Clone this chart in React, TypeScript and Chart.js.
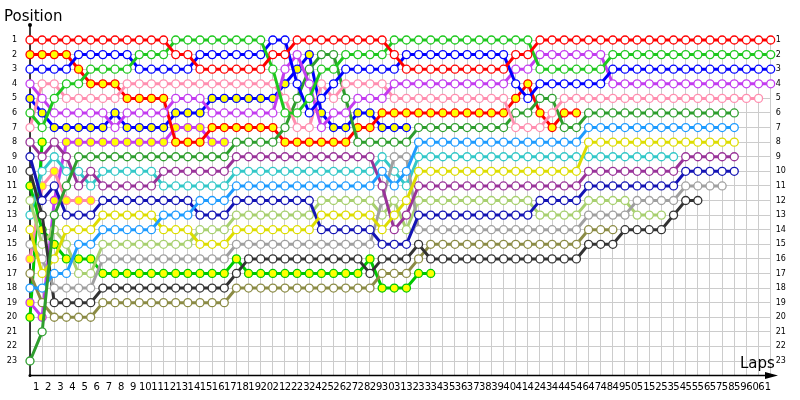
import React, { useEffect, useRef } from 'react';
import { Chart, registerables } from 'chart.js';

Chart.register(...registerables);

// grid index 0 = start, 1..61 = laps
const lapIndex = [0,1,2,3,4,5,6,7,8,9,10,11,12,13,14,15,16,17,18,19,20,21,22,23,24,25,26,27,28,29,30,31,32,33,34,35,36,37,38,39,40,41,42,43,44,45,46,47,48,49,50,51,52,53,54,55,56,57,58,59,60,61];
const lapLabels = ['', '1','2','3','4','5','6','7','8','9','10','11','12','13','14','15','16','17','18','19','20','21','22','23','24','25','26','27','28','29','30','31','32','33','34','35','36','37','38','39','40','41','42','43','44','45','46','47','48','49','50','51','52','53','54','55','56','57','58','59','60','61'];
const positionTicks = [1,2,3,4,5,6,7,8,9,10,11,12,13,14,15,16,17,18,19,20,21,22,23,24];
const positionLabels = ['1','2','3','4','5','6','7','8','9','10','11','12','13','14','15','16','17','18','19','20','21','22','23',''];

const redA = [1,1,1,1,1,1,1,1,1,1, 1,1,2,2,3,3,3,3,3,3, 2,2,1,1,1,1,1,1,1,1, 2,3,3,3,3,3,3,3,3,3, 2,2,1,1,1,1,1,1,1,1, 1,1,1,1,1,1,1,1,1,1, 1,1];
const redB = [2,2,2,2,3,4,4,4,5,5, 5,5,8,8,8,7,7,7,7,7, 7,8,8,8,8,8,8,7,7,6, 6,6,6,6,6,6,6,6,6,6, 5,4,6,7,6,6];
const blueC = [3,3,3,3,2,2,2,2,2,3, 3,3,3,3,2,2,2,2,2,2, 1,1,4,6,5,4,3,3,3,3, 3,2,2,2,2,2,2,2,2,2, 4,5,4,4,4,4,4,4,3,3, 3,3,3,3,3,3,3,3,3,3, 3,3];
const violetD = [4,5,6,6,6,6,6,7,6,6, 6,6,5,5,5,6,6,6,6,6, 6,3,2,4,7,6,6,5,5,5, 4,4,4,4,4,4,4,4,4,4, 3,3,2,2,2,2,2,2,4,4, 4,4,4,4,4,4,4,4,4,4, 4,4];
const blueE = [5,6,7,7,7,7,7,6,7,7, 7,7,6,6,6,5,5,5,5,5, 5,4,3,2,6,7,7,6,6,7, 7,7];
const greenF = [6,7,5,4,4,3,3,3,3,2, 2,2,1,1,1,1,1,1,1,1, 3,6,6,5,3,3,2,2,2,2, 1,1,1,1,1,1,1,1,1,1, 1,1,3,3,3,3,3,3,2,2, 2,2,2,2,2,2,2,2,2,2, 2,2];
const pinkG = [7,4,4,5,5,5,5,5,4,4, 4,4,4,4,4,4,4,4,4,4, 4,5,7,7,4,5,4,4,4,4, 5,5,5,5,5,5,5,5,5,5, 7,7,7,6,5,5,5,5,5,5, 5,5,5,5,5,5,5,5,5,5, 5];
const plumH = [8,9,8,9,11,10,11,11,11,11, 11,10,10,10,10,10,10,9,9,9, 9,9,9,9,9,9,9,9,9,11, 14,13,11,11,11,11,11,11,11,11, 11,11,11,11,11,11,10,10,10,10, 10,10,10,10,9,9,9,9,9];
const darkBlueI = [9,12,11,13,13,13,12,12,12,12, 12,12,12,12,13,13,13,12,12,12, 12,12,12,12,14,14,14,14,14,15, 15,15,13,13,13,13,13,13,13,13, 13,13,12,12,12,12,11,11,11,11, 11,11,11,11,10,10,10,10,10];
const blackJ = [10,13,19,19,19,19,18,18,18,18, 18,18,18,18,18,18,18,17,16,16, 16,16,16,16,16,16,16,16,17,16, 16,16,15,16,16,16,16,16,16,16, 16,16,16,16,16,16,15,15,15,14, 14,14,14,13,12,12];
const greenK = [11,14,15,16,16,16,17,17,17,17, 17,17,17,17,17,17,17,16,17,17, 17,17,17,17,17,17,17,17,16,18, 18,18,17,17];
const lightGreenL = [12,15,14,15,17,17,15,15,15,15, 15,15,15,15,14,14,14,13,13,13, 13,13,13,13,12,12,12,12,12,13, 12,14,12,12,12,12,12,12,12,12, 12,12,13,13,13,13,12,12,12,12, 13,13,13];
const cyanM = [13,10,9,10,10,11,10,10,10,10, 10,11,11,11,11,11,11,10,10,10, 10,10,10,10,10,10,10,10,10,9, 10,11,9,9,9,9,9,9,9,9, 9,9,9,9,9,9,9,9,9,9, 9,9,9,9];
const yellowN = [14,17,16,14,14,14,13,13,13,13, 13,14,14,14,15,15,15,14,14,14, 14,14,14,14,13,13,13,13,13,14, 13,12,10,10,10,10,10,10,10,10, 10,10,10,10,10,10,8,8,8,8, 8,8,8,8,8,8,8,8,8];
const grayO = [15,16,18,18,18,18,16,16,16,16, 16,16,16,16,16,16,16,15,15,15, 15,15,15,15,15,15,15,15,15,12, 9,9,14,14,14,14,14,14,14,14, 14,14,14,14,14,14,13,13,13,13, 12,12,12,12,11,11,11,11];
const pinkP = [16,11,10,12,12,12];
const oliveQ = [17,19,20,20,20,20,19,19,19,19, 19,19,19,19,19,19,19,18,18,18, 18,18,18,18,18,18,18,18,18,17, 17,17,16,15,15,15,15,15,15,15, 15,15,15,15,15,15,14,14,14];
const lightBlueR = [18,18,17,17,15,15,14,14,14,14, 14,13,13,13,12,12,12,11,11,11, 11,11,11,11,11,11,11,11,11,10, 11,10,8,8,8,8,8,8,8,8, 8,8,8,8,8,8,7,7,7,7, 7,7,7,7,7,7,7,7,7];
const violetS = [19,20,12,8,8,8,8,8,8,8, 8,8,7,7,7,8,8];
const darkGreenT = [23,21,13,11,9,9,9,9,9,9, 9,9,9,9,9,9,9,8,8,8, 8,7,5,3,2,2,5,8,8,8, 8,8,7,7,7,7,7,7,7,7, 6,6,5,5,7,7,6,6,6,6, 6,6,6,6,6,6,6,6,6];
const greenU = [20,8];

const WHITE = '#ffffff';
const YELLOW = '#ffff00';

const series = [
  { values: redA, color: '#ff0000', fill: WHITE },
  { values: greenF, color: '#1ec81e', fill: WHITE },
  { values: blueC, color: '#0000ff', fill: WHITE },
  { values: violetD, color: '#c33cf0', fill: WHITE },
  { values: pinkG, color: '#ff8fb0', fill: WHITE },
  { values: darkGreenT, color: '#2e9e2e', fill: WHITE },
  { values: lightBlueR, color: '#1e9bff', fill: WHITE },
  { values: yellowN, color: '#dddd00', fill: WHITE },
  { values: plumH, color: '#993399', fill: WHITE },
  { values: darkBlueI, color: '#1414b4', fill: WHITE },
  { values: grayO, color: '#a0a0a0', fill: WHITE },
  { values: blackJ, color: '#333333', fill: WHITE },
  { values: lightGreenL, color: '#a8d070', fill: WHITE },
  { values: cyanM, color: '#33c8c8', fill: WHITE },
  { values: oliveQ, color: '#8b8b45', fill: WHITE },
  { values: redB, color: '#ff0000', fill: YELLOW },
  { values: blueE, color: '#0000ff', fill: YELLOW },
  { values: greenK, color: '#00c800', fill: YELLOW },
  { values: pinkP, color: '#ff88aa', fill: YELLOW },
  { values: violetS, color: '#c33cf0', fill: YELLOW },
  { values: greenU, color: '#00c800', fill: YELLOW },
];

const FONT = '"DejaVu Sans", sans-serif';

const decor = {
  id: 'decor',
  beforeDatasetsDraw(chart: any) {
    const { ctx, chartArea } = chart;
    const x0 = chart.scales.x.getPixelForValue(0);
    const yb = chartArea.bottom;
    ctx.save();
    ctx.strokeStyle = '#000';
    ctx.fillStyle = '#000';
    ctx.lineWidth = 1.5;
    ctx.beginPath();
    ctx.moveTo(x0, 25);
    ctx.lineTo(x0, yb);
    ctx.lineTo(770, yb);
    ctx.stroke();
    ctx.beginPath();
    ctx.moveTo(778, yb);
    ctx.lineTo(765, yb - 3.5);
    ctx.lineTo(765, yb + 3.5);
    ctx.closePath();
    ctx.fill();
    ctx.beginPath();
    ctx.arc(x0, 25, 2, 0, Math.PI * 2);
    ctx.fill();
    ctx.beginPath();
    ctx.arc(x0, yb, 1.5, 0, Math.PI * 2);
    ctx.fill();
    ctx.restore();
  },
  afterDraw(chart: any) {
    const { ctx } = chart;
    ctx.save();
    ctx.fillStyle = '#000';
    ctx.font = '15px ' + FONT;
    ctx.textBaseline = 'alphabetic';
    ctx.textAlign = 'left';
    ctx.fillText('Position', 4, 21);
    ctx.fillText('Laps', 740, 368);
    ctx.restore();
  },
};

export default function App() {
  const ref = useRef<HTMLCanvasElement | null>(null);
  useEffect(() => {
    if (!ref.current) return;
    const datasets = series.map((s) => ({
      data: s.values.map((v, i) => ({ x: lapIndex[i], y: v })),
      borderColor: s.color,
      backgroundColor: s.fill,
      pointBackgroundColor: s.fill,
      pointBorderColor: s.color,
      pointRadius: 4,
      pointBorderWidth: 1.3,
      borderWidth: 3,
      tension: 0,
      clip: false as any,
      spanGaps: false,
    }));
    const chart = new Chart(ref.current, {
      type: 'line',
      data: { datasets },
      plugins: [decor],
      options: {
        animation: false,
        responsive: true,
        maintainAspectRatio: false,
        events: [],
        layout: { padding: { top: 37.1, left: 0, right: 0, bottom: 0 } },
        plugins: { legend: { display: false }, tooltip: { enabled: false }, title: { display: false } },
        scales: {
          x: {
            type: 'linear',
            position: 'bottom',
            min: 0,
            max: 61,
            afterBuildTicks: (axis: any) => { axis.ticks = lapIndex.map((v) => ({ value: v })); },
            afterFit: (scale: any) => { scale.height = 24.4; },
            ticks: {
              autoSkip: false,
              maxRotation: 0,
              minRotation: 0,
              padding: 6,
              labelOffset: -6.07,
              color: '#000',
              font: { family: FONT, size: 10 },
              callback: (v: any) => lapLabels[v] ?? '',
            },
            grid: { color: '#cccccc', lineWidth: 1, drawTicks: false },
            border: { display: false },
          },
          y: {
            type: 'linear',
            position: 'left',
            reverse: true,
            min: 0.8,
            max: 24,
            afterBuildTicks: (axis: any) => { axis.ticks = positionTicks.map((v) => ({ value: v })); },
            afterFit: (scale: any) => { scale.width = 30; },
            ticks: {
              padding: 13,
              color: '#000',
              font: { family: FONT, size: 8 },
              callback: (v: any) => positionLabels[v - 1] ?? '',
            },
            grid: { color: '#cccccc', lineWidth: 1, drawTicks: false },
            border: { display: false },
          },
          y2: {
            type: 'linear',
            position: 'right',
            reverse: true,
            min: 0.8,
            max: 24,
            afterBuildTicks: (axis: any) => { axis.ticks = positionTicks.map((v) => ({ value: v })); },
            afterFit: (scale: any) => { scale.width = 29.3; },
            ticks: {
              padding: 5,
              color: '#000',
              font: { family: FONT, size: 8 },
              callback: (v: any) => positionLabels[v - 1] ?? '',
            },
            grid: { display: false, drawTicks: false },
            border: { display: false },
          },
        },
      },
    });
    return () => chart.destroy();
  }, []);
  return (
    <div style={{ position: 'fixed', left: 0, top: 0, width: 800, height: 400, background: '#fff' }}>
      <canvas ref={ref} />
    </div>
  );
}
